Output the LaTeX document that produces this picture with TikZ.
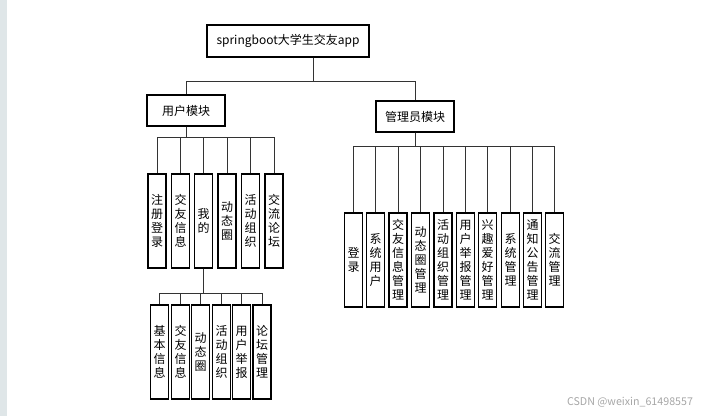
\documentclass[tikz,border=0pt]{standalone}
\usepackage{fontspec}
\newfontfamily\cjk{Noto Sans CJK SC}
\definecolor{stripgray}{RGB}{223,230,232}

\begin{document}
\begin{tikzpicture}[x=0.75pt, y=-0.75pt,
  box/.style={draw, line width=0.8pt, inner sep=0pt, align=center, font=\cjk\fontsize{9}{10.5}\selectfont},
  mod/.style={box, minimum width=58.5pt, minimum height=23.25pt},
  leaf/.style={box, minimum width=13.5pt, minimum height=70.5pt},
  link/.style={line width=0.6pt, black!80},
  wmark/.style={font=\cjk\fontsize{8}{9}\selectfont, text=black!35}
]
\useasboundingbox (0,0) rectangle (723,416);
\fill[stripgray] (0,0) rectangle (7,416);

\node[box, minimum width=121.5pt, minimum height=24pt] (top) at (288,41) {springboot大学生交友app};
\node[mod] (user) at (186,110.5) {用户模块};
\node[mod] (admin) at (415,116.5) {管理员模块};

% user module
\node[leaf] (reg) at (157,221) {注\\册\\登\\录};
\node[leaf] (friend) at (180.5,221) {交\\友\\信\\息};
\node[leaf] (mine) at (203.5,221) {我\\的};
\node[leaf] (moment) at (227,221) {动\\态\\圈};
\node[leaf] (activity) at (250.5,221) {活\\动\\组\\织};
\node[leaf] (forum) at (274,221) {交\\流\\论\\坛};

% under "mine"
\node[leaf] (base) at (159.5,352) {基\\本\\信\\息};
\node[leaf] (myfriend) at (180.5,352) {交\\友\\信\\息};
\node[leaf] (mymoment) at (200.5,352) {动\\态\\圈};
\node[leaf] (myact) at (221.5,352) {活\\动\\组\\织};
\node[leaf] (report) at (241.5,352) {用\\户\\举\\报};
\node[leaf] (forummgr) at (262,352) {论\\坛\\管\\理};

% admin module
\node[leaf] (login) at (353.5,260) {登\\录};
\node[leaf] (sysuser) at (375.5,260) {系\\统\\用\\户};
\node[leaf] (friendmgr) at (398,260) {交\\友\\信\\息\\管\\理};
\node[leaf] (momentmgr) at (420.5,260) {动\\态\\圈\\管\\理};
\node[leaf] (actmgr) at (443,260) {活\\动\\组\\织\\管\\理};
\node[leaf] (reportmgr) at (465.5,260) {用\\户\\举\\报\\管\\理};
\node[leaf] (hobbymgr) at (487.5,260) {兴\\趣\\爱\\好\\管\\理};
\node[leaf] (sysmgr) at (510.5,260) {系\\统\\管\\理};
\node[leaf] (noticemgr) at (532.5,260) {通\\知\\公\\告\\管\\理};
\node[leaf] (chatmgr) at (554.5,260) {交\\流\\管\\理};

\draw[link] ([xshift=18.75pt]top.south) -- ++(0,24) -| (user.north);
\draw[link] ([xshift=18.75pt]top.south) -- ++(0,24) -| (admin.north);

\draw[link] (user.south) -- ++(0,11) -| (reg.north);
\draw[link] (user.south) -- ++(0,11) -| (friend.north);
\draw[link] (user.south) -- ++(0,11) -| (mine.north);
\draw[link] (user.south) -- ++(0,11) -| (moment.north);
\draw[link] (user.south) -- ++(0,11) -| (activity.north);
\draw[link] (user.south) -- ++(0,11) -| (forum.north);

\draw[link] (mine.south) -- ++(0,25) -| (base.north);
\draw[link] (mine.south) -- ++(0,25) -| (myfriend.north);
\draw[link] (mine.south) -- ++(0,25) -| (mymoment.north);
\draw[link] (mine.south) -- ++(0,25) -| (myact.north);
\draw[link] (mine.south) -- ++(0,25) -| (report.north);
\draw[link] (mine.south) -- ++(0,25) -| (forummgr.north);

\draw[link] (admin.south) -- ++(0,14) -| (login.north);
\draw[link] (admin.south) -- ++(0,14) -| (sysuser.north);
\draw[link] (admin.south) -- ++(0,14) -| (friendmgr.north);
\draw[link] (admin.south) -- ++(0,14) -| (momentmgr.north);
\draw[link] (admin.south) -- ++(0,14) -| (actmgr.north);
\draw[link] (admin.south) -- ++(0,14) -| (reportmgr.north);
\draw[link] (admin.south) -- ++(0,14) -| (hobbymgr.north);
\draw[link] (admin.south) -- ++(0,14) -| (sysmgr.north);
\draw[link] (admin.south) -- ++(0,14) -| (noticemgr.north);
\draw[link] (admin.south) -- ++(0,14) -| (chatmgr.north);

\node[wmark] (wm) at (630,402) {CSDN @weixin\_61498557};
\end{tikzpicture}
\end{document}
